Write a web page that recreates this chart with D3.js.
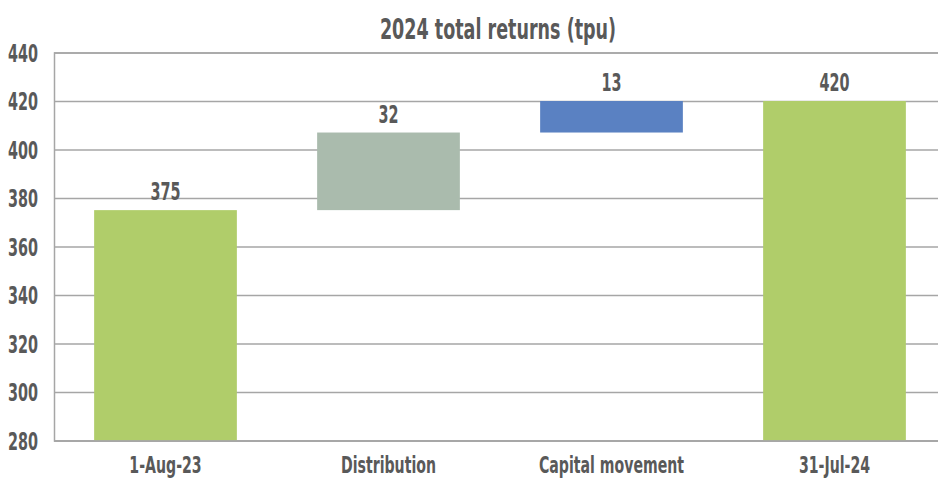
<!DOCTYPE html>
<html>
<head>
<meta charset="utf-8">
<script src="https://cdn.jsdelivr.net/npm/d3@7"></script>
<style>
  body { margin: 0; background: #fff; }
  svg text { font-family: "DejaVu Sans", sans-serif; font-stretch: condensed; font-weight: bold; fill: #595959; }
</style>
</head>
<body>
<div id="chart"></div>
<script>
let categories = ['1-Aug-23', 'Distribution', 'Capital movement', '31-Jul-24'];
let barValues = [375, 32, 13, 420];
let barKinds = ['total', 'step', 'step', 'total'];
let yTicks = [280, 300, 320, 340, 360, 380, 400, 420, 440];
let titleText = '2024 total returns (tpu)';

let colors = { total: '#b0cd6a', up: '#aabbad', last: '#5a81c2' };
let width = 938, height = 478;
let margin = { top: 52.5, left: 54, bottom: 37.5 };
let plotRight = 946;

// build the floating bars of the waterfall
let bars = [];
let running = 0;
barValues.forEach((v, i) => {
  if (barKinds[i] === 'total') {
    bars.push({ cat: categories[i], lo: 280, hi: v, label: v, color: colors.total });
    running = v;
  } else {
    bars.push({ cat: categories[i], lo: running, hi: running + v, label: v, color: i === 1 ? colors.up : colors.last });
    running += v;
  }
});

let svg = d3.select('#chart').append('svg')
            .attr('width', width)
            .attr('height', height);

let xScale = d3.scaleBand()
               .domain(categories)
               .range([margin.left, plotRight])
               .paddingInner(0.36)
               .paddingOuter(0.18);
let yScale = d3.scaleLinear()
               .domain([280, 440])
               .range([height - margin.bottom, margin.top]);

// gridlines + left axis
let yAxis = svg.append('g')
               .attr('transform', `translate(${margin.left}, 0)`)
               .call(d3.axisLeft(yScale)
                       .tickValues(yTicks)
                       .tickSize(-(plotRight - margin.left))
                       .tickPadding(16));
yAxis.select('.domain').attr('stroke', '#a6a6a6').attr('stroke-width', 1.5);
yAxis.selectAll('.tick line').attr('stroke', '#a6a6a6').attr('stroke-width', 1.5);
yAxis.selectAll('.tick text')
     .attr('y', 0)
     .attr('dy', '0.36em')
     .attr('transform', 'scale(1,1.5)')
     .style('font-size', '16px');

// bars
svg.selectAll('rect.bar')
   .data(bars)
   .enter()
   .append('rect')
   .attr('class', 'bar')
   .attr('x', d => xScale(d.cat))
   .attr('width', xScale.bandwidth())
   .attr('y', d => yScale(d.hi))
   .attr('height', d => yScale(d.lo) - yScale(d.hi))
   .style('fill', d => d.color);

// bottom axis
let xAxis = svg.append('g')
               .attr('transform', `translate(0, ${yScale(280)})`)
               .call(d3.axisBottom(xScale).tickSize(0).tickPadding(0));
xAxis.select('.domain').attr('stroke', '#a6a6a6').attr('stroke-width', 1.5);
xAxis.selectAll('.tick text')
     .attr('y', 0)
     .attr('dy', '1.36em')
     .attr('transform', 'scale(1,1.5)')
     .style('font-size', '15.7px');

// value labels
svg.selectAll('g.vlabel')
   .data(bars)
   .enter()
   .append('g')
   .attr('class', 'vlabel')
   .attr('transform', d => `translate(${xScale(d.cat) + xScale.bandwidth() / 2}, ${yScale(d.hi) - 10})`)
   .append('text')
   .attr('text-anchor', 'middle')
   .attr('transform', 'scale(1,1.5)')
   .style('font-size', '16px')
   .text(d => d.label);

// title
svg.append('g')
   .attr('transform', 'translate(498, 39)')
   .append('text')
   .attr('text-anchor', 'middle')
   .attr('transform', 'scale(1,1.42)')
   .style('font-size', '19.5px')
   .text(titleText);
</script>
</body>
</html>
